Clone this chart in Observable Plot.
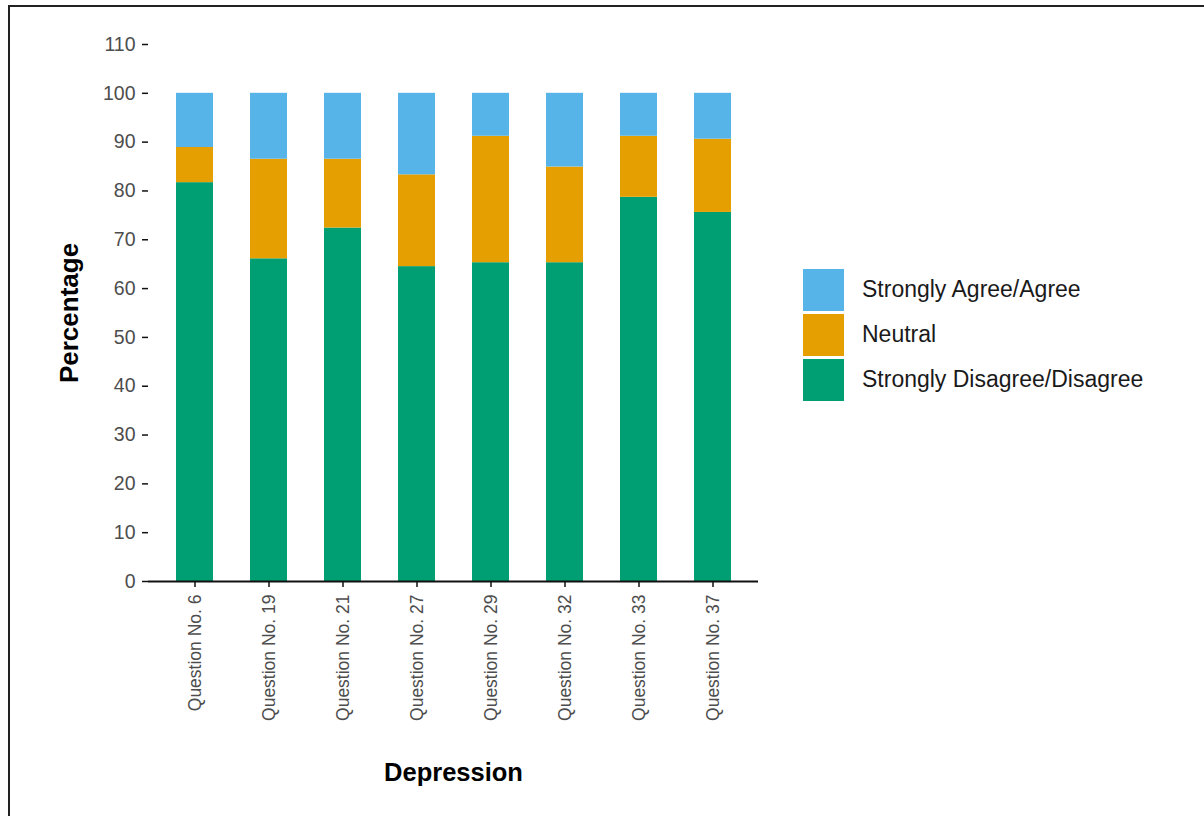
<!DOCTYPE html>
<html>
<head>
<meta charset="utf-8">
<script src="https://cdn.jsdelivr.net/npm/d3@7"></script>
<script src="https://cdn.jsdelivr.net/npm/@observablehq/plot@0.6"></script>
<style>
  html, body { margin: 0; padding: 0; background: #fff; }
  #wrap { position: relative; width: 1204px; height: 816px; overflow: hidden; font-family: "Liberation Sans", Arial, sans-serif; }
  #frame { position: absolute; left: 8px; top: 5px; width: 1300px; height: 900px; border-top: 2px solid #222; border-left: 2px solid #222; box-sizing: border-box; }
  #legend { position: absolute; left: 803px; top: 267px; }
  .item { display: flex; align-items: center; height: 45px; }
  .sw { width: 41px; height: 42px; margin-right: 18px; }
  .lab { font-size: 23px; color: #1a1a1a; }
</style>
</head>
<body>
<div id="wrap">
  <div id="chart"></div>
  <div id="frame"></div>
  <div id="legend"></div>
</div>
<script>
const questions = ["Question No. 6", "Question No. 19", "Question No. 21", "Question No. 27", "Question No. 29", "Question No. 32", "Question No. 33", "Question No. 37"];
const disagree = [81.7, 66.1, 72.4, 64.5, 65.3, 65.3, 78.7, 75.6];
const neutral  = [7.2, 20.4, 14.1, 18.8, 25.9, 19.6, 12.5, 15.0];
const agree    = [11.1, 13.5, 13.5, 16.7, 8.8, 15.1, 8.8, 9.4];
const responses = ["Strongly Disagree/Disagree", "Neutral", "Strongly Agree/Agree"];
const colors = ["#009E73", "#E69F00", "#56B4E9"];
const yTicks = [0, 10, 20, 30, 40, 50, 60, 70, 80, 90, 100, 110];

const series = [disagree, neutral, agree];
const data = [];
questions.forEach((q, i) => {
  responses.forEach((r, j) => data.push({question: q, response: r, value: series[j][i]}));
});

const plot = Plot.plot({
  width: 1204,
  height: 816,
  marginLeft: 148,
  marginRight: 446,
  marginTop: 44,
  marginBottom: 235,
  style: {fontFamily: "'Liberation Sans', Arial, sans-serif", background: "#fff"},
  x: {domain: questions, paddingInner: 0.5, paddingOuter: 0.35, label: null},
  y: {domain: [0, 110], label: null},
  color: {domain: responses, range: colors},
  marks: [
    Plot.barY(data, Plot.stackY({order: responses, x: "question", y: "value", fill: "response"})),
    Plot.axisY({ticks: yTicks, tickSize: 6, tickPadding: 7, fontSize: 19.5, color: "#4d4d4d", stroke: "#111", strokeWidth: 1.5, label: null}),
    Plot.axisX({tickSize: 6, tickPadding: 7, tickRotate: -90, fontSize: 17.5, color: "#4d4d4d", stroke: "#111", strokeWidth: 1.5, label: null}),
    Plot.ruleY([0], {stroke: "#111", strokeWidth: 2}),
    Plot.ruleX([0], {frameAnchor: "left", stroke: "#111", strokeWidth: 2, y1: 0, y2: 110}),
    Plot.text(["Percentage"], {frameAnchor: "left", textAnchor: "middle", lineAnchor: "middle", dx: -79, rotate: -90, fontSize: 26, fontWeight: "bold", fill: "#000"}),
    Plot.text(["Depression"], {frameAnchor: "bottom", lineAnchor: "middle", dy: 191, fontSize: 25.5, fontWeight: "bold", fill: "#000"})
  ]
});
document.getElementById("chart").appendChild(plot);

// enforce tick label sizes
const tickStrings = new Set(yTicks.map(String));
d3.select(plot).selectAll("text").each(function() {
  const t = this.textContent.trim();
  if (tickStrings.has(t)) d3.select(this).style("font-size", "19.5px");
  else if (questions.includes(t)) d3.select(this).style("font-size", "17.5px");
});

const legend = d3.select("#legend");
[2, 1, 0].forEach(k => {
  const it = legend.append("div").attr("class", "item");
  it.append("div").attr("class", "sw").style("background", colors[k]);
  it.append("div").attr("class", "lab").text(responses[k]);
});
</script>
</body>
</html>
